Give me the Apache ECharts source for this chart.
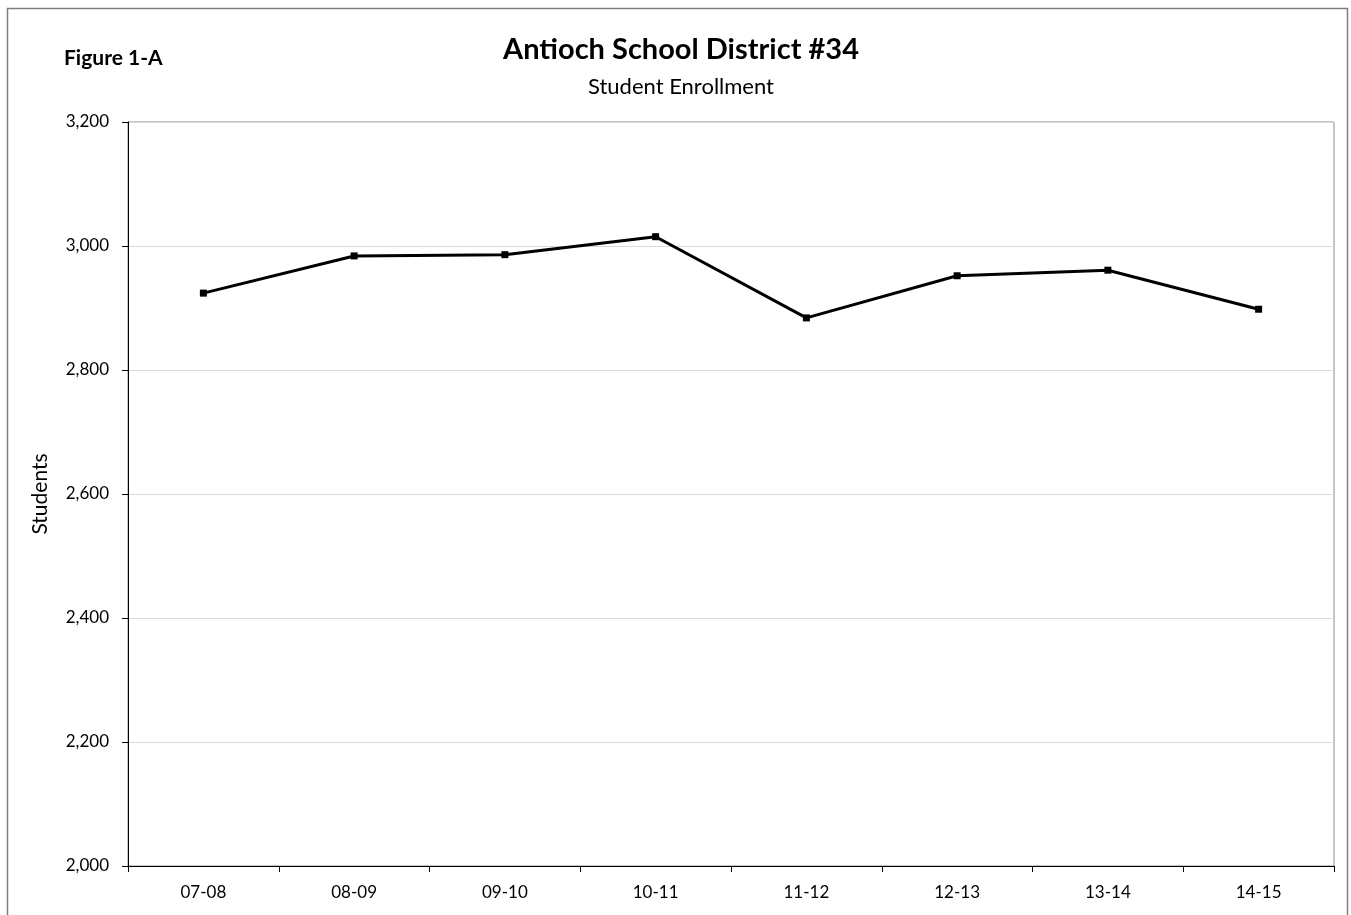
<!DOCTYPE html>
<html>
<head>
<meta charset="utf-8">
<script src="https://cdn.jsdelivr.net/npm/echarts@6/dist/echarts.min.js"></script>
<style>
  html, body { margin: 0; padding: 0; background: #fff; }
  #chart { width: 1351px; height: 915px; }
</style>
</head>
<body>
<div id="chart"></div>
<script>
// School years and fall enrollment counts
const years = ['07-08', '08-09', '09-10', '10-11', '11-12', '12-13', '13-14', '14-15'];
const enrollment = [2924, 2984, 2986, 3015, 2884, 2952, 2961, 2898];
const yTicks = [2000, 2200, 2400, 2600, 2800, 3000, 3200];

const FONT = 'Lato, "Open Sans", sans-serif';
const chart = echarts.init(document.getElementById('chart'));

chart.setOption({
  animation: false,
  backgroundColor: '#fff',
  textStyle: { fontFamily: FONT, color: '#000' },
  graphic: [
    {
      type: 'rect',
      shape: { x: 7.5, y: 8.5, width: 1340, height: 920 },
      style: { fill: 'none', stroke: '#7f7f7f', lineWidth: 1.5 },
      silent: true
    }
  ],
  title: [
    {
      text: 'Antioch School District #34',
      left: 676, top: 30, textAlign: 'center',
      textStyle: { fontFamily: FONT, fontWeight: 'bold', fontSize: 29, color: '#000' }
    },
    {
      text: 'Student Enrollment',
      left: 676, top: 71, textAlign: 'center',
      textStyle: { fontFamily: FONT, fontWeight: 'normal', fontSize: 22, color: '#000' }
    },
    {
      text: 'Figure 1-A',
      left: 59, top: 43,
      textStyle: { fontFamily: FONT, fontWeight: 'bold', fontSize: 21, color: '#000' }
    }
  ],
  grid: {
    left: 128, right: 17, top: 122, bottom: 49,
    show: true, borderColor: '#8c8c8c', borderWidth: 1,
    containLabel: false
  },
  xAxis: {
    type: 'category',
    data: years,
    boundaryGap: true,
    axisLine: { show: true, lineStyle: { color: '#000', width: 1 } },
    axisTick: { show: true, inside: false, length: 6, alignWithLabel: false, lineStyle: { color: '#000' } },
    axisLabel: { fontFamily: FONT, fontSize: 17, color: '#000', margin: 18 },
    splitLine: { show: false }
  },
  yAxis: {
    type: 'value',
    min: 2000, max: 3200, interval: 200,
    name: 'Students',
    nameLocation: 'middle',
    nameGap: 77,
    nameRotate: 90,
    nameTextStyle: { fontFamily: FONT, fontSize: 21, color: '#000' },
    axisLine: { show: true, lineStyle: { color: '#000', width: 1 } },
    axisTick: { show: true, inside: false, length: 6, lineStyle: { color: '#000' } },
    axisLabel: {
      fontFamily: FONT, fontSize: 17, color: '#000', margin: 19,
      formatter: v => yTicks.includes(v) ? v.toLocaleString('en-US') : ''
    },
    splitLine: { show: true, lineStyle: { color: '#d9d9d9', width: 1 } }
  },
  series: [{
    type: 'line',
    data: enrollment,
    symbol: 'rect',
    symbolSize: 7,
    lineStyle: { color: '#000', width: 3 },
    itemStyle: { color: '#000' },
    z: 5
  }]
});
</script>
</body>
</html>
